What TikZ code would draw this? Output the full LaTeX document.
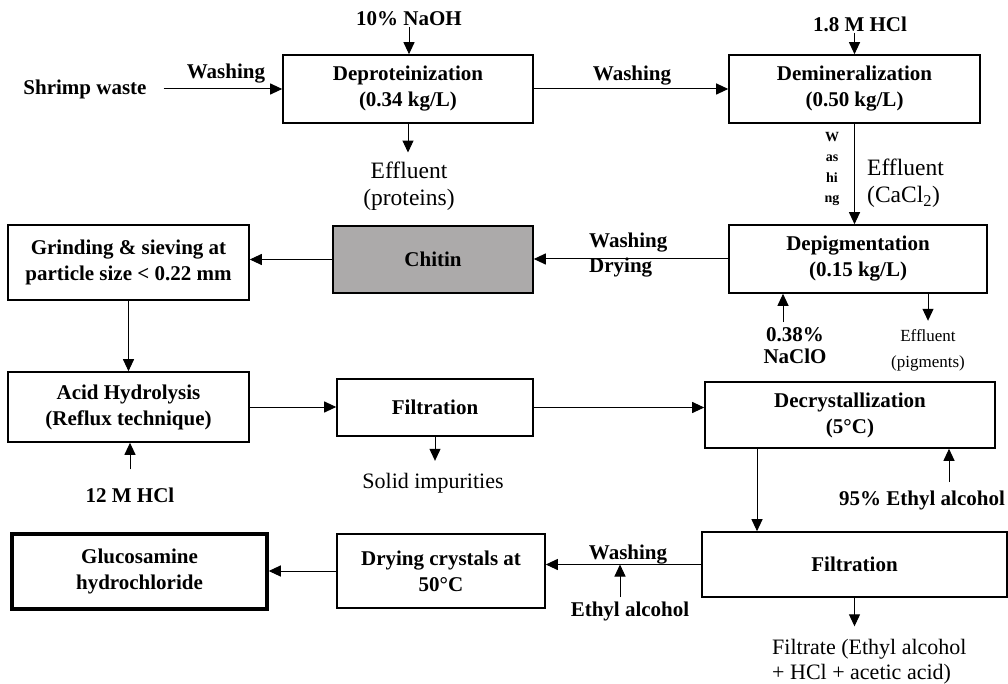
\documentclass[tikz,border=0pt]{standalone}
\usepackage{fontspec}
\setmainfont{Liberation Serif}
\usetikzlibrary{positioning, arrows.meta}
\definecolor{chitingray}{RGB}{172,170,170}
\tikzset{box/.style = {draw, line width=1.6pt, align=center, font=\bfseries\fontsize{21}{26}\selectfont, inner sep=1pt},
         lbl/.style = {align=center, font=\bfseries\fontsize{21}{26}\selectfont, inner sep=1pt},
         note/.style = {align=center, font=\fontsize{22}{25}\selectfont, inner sep=1pt},
         arr/.style = {-{Triangle[length=12pt,width=11pt]}, line width=1pt}}

\begin{document}
\begin{tikzpicture}[x=1pt, y=-1pt]
        \useasboundingbox (0,0) rectangle (1008,684);
        \node [box, minimum width=250, minimum height=68] (depro) at (408,89) {Deproteinization\\(0.34 kg/L)};
        \node [box, minimum width=251, minimum height=68] (demin) at (854.5,89) {Demineralization\\(0.50 kg/L)};
        \node [box, minimum width=258, minimum height=68] (depig) at (858,259) {Depigmentation\\(0.15 kg/L)};
        \node [box, minimum width=200, minimum height=67, fill=chitingray] (chitin) at (433,259.5) {Chitin};
        \node [box, minimum width=241, minimum height=75] (grind) at (128.5,262.5) {Grinding \& sieving at\\particle size < 0.22 mm};
        \node [box, minimum width=241, minimum height=70] (acid) at (128.5,407) {Acid Hydrolysis\\(Reflux technique)};
        \node [box, minimum width=196, minimum height=57] (filtA) at (435,407.5) {Filtration};
        \node [box, minimum width=290, minimum height=66] (decry) at (850,415) {Decrystallization\\(5°C)};
        \node [box, minimum width=305, minimum height=65] (filtB) at (854.5,564.5) {Filtration};
        \node [box, minimum width=208, minimum height=74] (dry) at (441,571) {Drying crystals at\\50°C};
        \node [box, minimum width=255, minimum height=75, line width=3.5pt] (gluc) at (139.5,571.5) {Glucosamine\\hydrochloride};

        \node [lbl] (shrimp) at (85,89) {Shrimp waste};
        \node [lbl] (washA) at (226,74) {Washing};
        \node [lbl] (naoh) at (409,19) {10\% NaOH};
        \node [note, font=\fontsize{23.5}{27}\selectfont] (effA) at (409,186) {Effluent\\(proteins)};
        \node [lbl] (washB) at (632,76) {Washing};
        \node [lbl] (hclA) at (860,24) {1.8 M HCl};
        \node [lbl, font=\bfseries\fontsize{14}{20.5}\selectfont] (washV) at (832,169) {W\\as\\hi\\ng};
        \node [note, align=left, anchor=west, font=\fontsize{23.5}{27}\selectfont] (effB) at (866,183) {Effluent\\(CaCl\textsubscript{2})};
        \node [lbl, align=left, anchor=west, font=\bfseries\fontsize{21}{25}\selectfont] (washC) at (588,255) {Washing\\Drying};
        \node [lbl, font=\bfseries\fontsize{21}{22}\selectfont] (naclo) at (795,346) {0.38\%\\NaClO};
        \node [note, font=\fontsize{17}{26}\selectfont] (effC) at (928,350) {Effluent\\(pigments)};
        \node [lbl] (hclB) at (130,495) {12 M HCl};
        \node [note] (solid) at (433,483) {Solid impurities};
        \node [lbl] (etohA) at (922,500) {95\% Ethyl alcohol};
        \node [lbl] (washD) at (628,555) {Washing};
        \node [lbl] (etohB) at (630,611) {Ethyl alcohol};
        \node [note, align=left, anchor=west] (filtrate) at (771,662) {Filtrate (Ethyl alcohol\\+ HCl + acetic acid)};

        \coordinate (nacloIn) at (783,322);
        \coordinate (etohAIn) at (949,482);
        \coordinate (etohBIn) at (620,597);
        \coordinate (drop) at (757,0);

        \draw [arr, shorten <=16pt] (shrimp.east) -- (shrimp.east -| depro.west);
        \draw [arr] (naoh.south) -- (naoh.south |- depro.north);
        \draw [arr, shorten >=8pt] (depro.south) -- (depro.south |- effA.north);
        \draw [arr] (depro.east) -- (demin.west);
        \draw [arr] (hclA.south -| demin.north) -- (demin.north);
        \draw [arr] (demin.south) -- (demin.south |- depig.north);
        \draw [arr] (depig.west) -- (depig.west -| chitin.east);
        \draw [arr] (nacloIn) -- (nacloIn |- depig.south);
        \draw [arr] (effC.north |- depig.south) -- ++(0,27);
        \draw [arr] (chitin.west) -- (chitin.west -| grind.east);
        \draw [arr] (grind.south) -- (acid.north);
        \draw [arr, shorten <=17pt] (hclB.north) -- (hclB.north |- acid.south);
        \draw [arr] (acid.east) -- (acid.east -| filtA.west);
        \draw [arr, shorten >=11pt] (filtA.south) -- (filtA.south |- solid.north);
        \draw [arr] (filtA.east) -- (filtA.east -| decry.west);
        \draw [arr] (etohAIn) -- (etohAIn |- decry.south);
        \draw [arr] (decry.south -| drop) -- (filtB.north -| drop);
        \draw [arr] (filtB.west) -- (filtB.west -| dry.east);
        \draw [arr] (etohBIn) -- (etohBIn |- filtB.west);
        \draw [arr, shorten >=12pt] (filtB.south) -- (filtB.south |- filtrate.north);
        \draw [arr] (dry.west) -- (dry.west -| gluc.east);
    \end{tikzpicture}
\end{document}
